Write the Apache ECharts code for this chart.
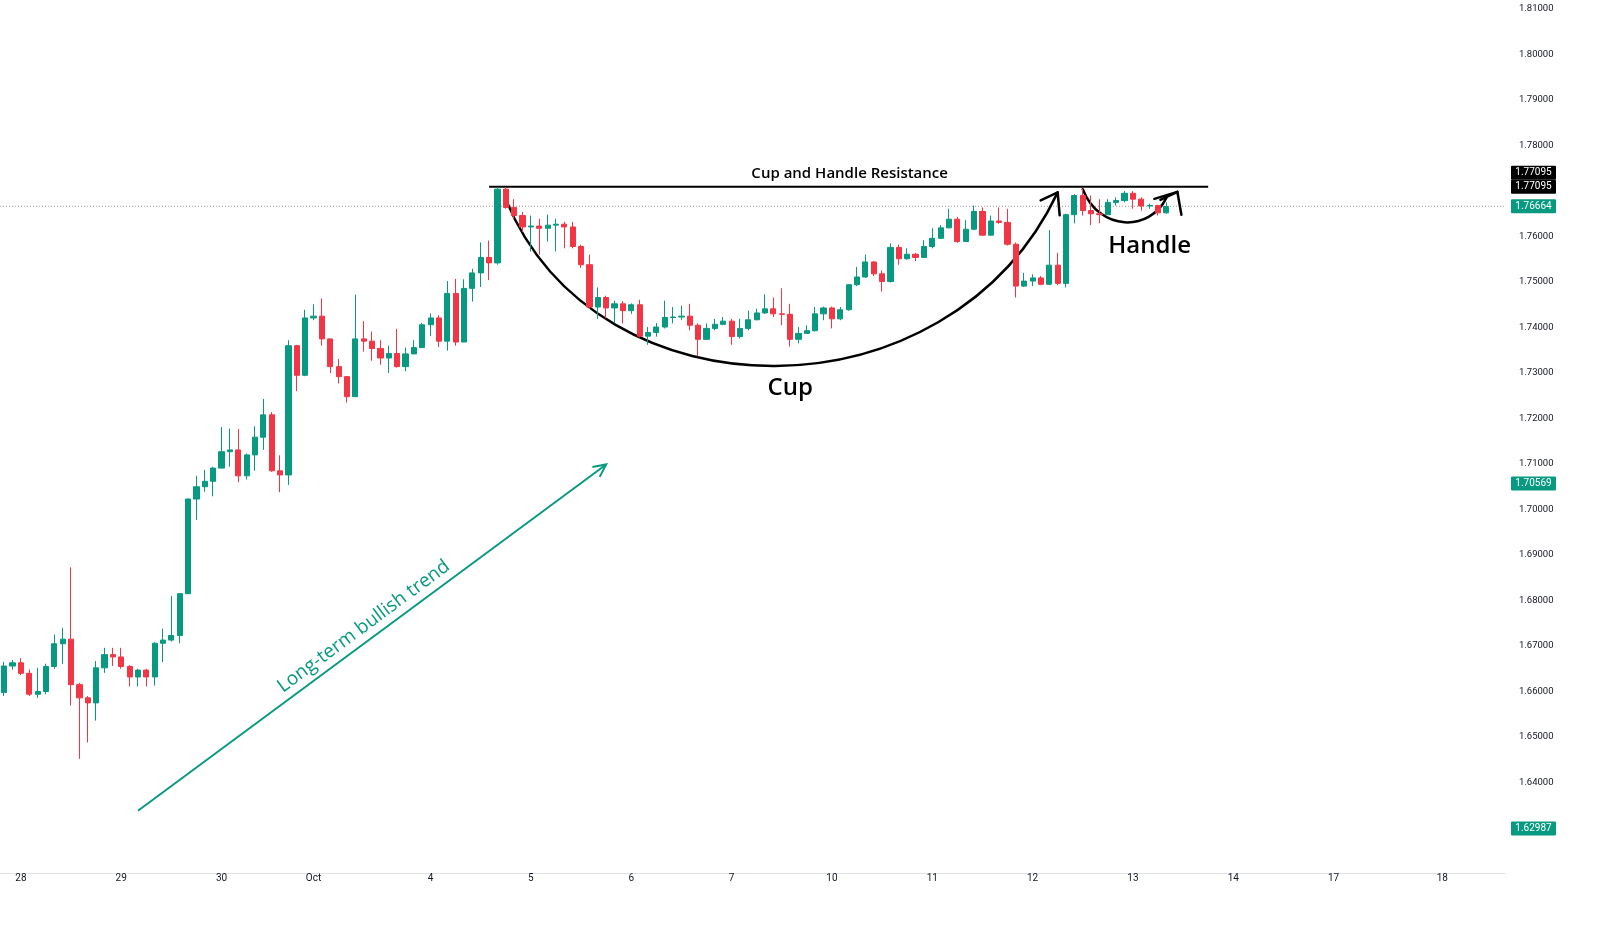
<!DOCTYPE html>
<html>
<head>
<meta charset="utf-8">
<script src="https://cdn.jsdelivr.net/npm/echarts@6/dist/echarts.min.js"></script>
<style>
  html, body, #main { margin: 0; width: 100%; height: 100%; background: #fff; overflow: hidden; }
</style>
</head>
<body>
<div id="main"></div>
<script>
// 2h candles
const open = [1.6598,1.6656,1.6663,1.6640,1.6594,1.6600,1.6655,1.6705,1.6715,1.6615,1.6586,1.6575,1.6652,1.6681,1.6676,1.6655,1.6632,1.6647,1.6632,1.6706,
  1.6713,1.6723,1.6815,1.7023,1.7050,1.7062,1.7091,1.7127,1.7131,1.7074,1.7120,1.7159,1.7208,1.7085,1.7076,1.7360,1.7295,1.7421,1.7425,1.7375,
  1.7314,1.7292,1.7248,1.7375,1.7370,1.7354,1.7333,1.7343,1.7314,1.7342,1.7356,1.7406,1.7421,1.7370,1.7475,1.7368,1.7486,1.7520,1.7554,1.7542,
  1.7704,1.7664,1.7646,1.7621,1.7623,1.7618,1.7625,1.7627,1.7621,1.7578,1.7538,1.7445,1.7466,1.7443,1.7452,1.7437,1.7450,1.7381,1.7389,1.7401,
  1.7422,1.7423,1.7425,1.7405,1.7374,1.7398,1.7407,1.7414,1.7380,1.7398,1.7417,1.7432,1.7441,1.7430,1.7429,1.7374,1.7387,1.7393,1.7430,1.7443,
  1.7419,1.7439,1.7494,1.7511,1.7544,1.7518,1.7501,1.7576,1.7551,1.7561,1.7554,1.7578,1.7596,1.7619,1.7638,1.7589,1.7616,1.7655,1.7603,1.7634,
  1.7631,1.7583,1.7491,1.7502,1.7509,1.7495,1.7537,1.7497,1.7648,1.7690,1.7657,1.7650,1.7648,1.7675,1.7679,1.7695,1.7682,1.7667,1.7668,1.7652];
const close = [1.6656,1.6663,1.6640,1.6594,1.6600,1.6655,1.6705,1.6715,1.6615,1.6586,1.6575,1.6652,1.6681,1.6676,1.6655,1.6632,1.6647,1.6632,1.6706,1.6713,
  1.6723,1.6815,1.7023,1.7050,1.7062,1.7091,1.7127,1.7131,1.7074,1.7120,1.7159,1.7208,1.7085,1.7076,1.7360,1.7295,1.7421,1.7425,1.7375,1.7314,
  1.7292,1.7248,1.7375,1.7370,1.7354,1.7333,1.7343,1.7314,1.7342,1.7356,1.7406,1.7421,1.7370,1.7475,1.7368,1.7486,1.7520,1.7554,1.7542,1.7704,
  1.7664,1.7646,1.7621,1.7623,1.7618,1.7625,1.7627,1.7621,1.7578,1.7538,1.7445,1.7466,1.7443,1.7452,1.7437,1.7450,1.7381,1.7389,1.7401,1.7422,
  1.7423,1.7425,1.7405,1.7374,1.7398,1.7407,1.7414,1.7380,1.7398,1.7417,1.7432,1.7441,1.7430,1.7429,1.7374,1.7387,1.7393,1.7430,1.7443,1.7419,
  1.7439,1.7494,1.7511,1.7544,1.7518,1.7501,1.7576,1.7551,1.7561,1.7554,1.7578,1.7596,1.7619,1.7638,1.7589,1.7616,1.7655,1.7603,1.7634,1.7631,
  1.7583,1.7491,1.7502,1.7509,1.7495,1.7537,1.7497,1.7648,1.7690,1.7657,1.7650,1.7648,1.7675,1.7679,1.7695,1.7682,1.7667,1.7668,1.7652,1.7666];
const low = [1.6590,1.6648,1.6636,1.6590,1.6586,1.6594,1.6650,1.6661,1.6569,1.6452,1.6488,1.6536,1.6641,1.6656,1.6650,1.6611,1.6611,1.6611,1.6613,1.6665,
  1.6710,1.6706,1.6815,1.6977,1.7039,1.7029,1.7094,1.7094,1.7060,1.7066,1.7085,1.7131,1.7083,1.7038,1.7054,1.7260,1.7293,1.7416,1.7360,1.7300,
  1.7277,1.7235,1.7248,1.7347,1.7327,1.7318,1.7300,1.7312,1.7304,1.7342,1.7356,1.7381,1.7357,1.7349,1.7360,1.7368,1.7457,1.7489,1.7504,1.7538,
  1.7661,1.7639,1.7610,1.7567,1.7560,1.7589,1.7567,1.7574,1.7574,1.7531,1.7441,1.7419,1.7420,1.7409,1.7409,1.7430,1.7378,1.7362,1.7380,1.7398,
  1.7409,1.7417,1.7394,1.7337,1.7373,1.7394,1.7405,1.7362,1.7376,1.7394,1.7416,1.7430,1.7423,1.7405,1.7358,1.7365,1.7386,1.7391,1.7416,1.7398,
  1.7416,1.7437,1.7491,1.7509,1.7513,1.7479,1.7499,1.7538,1.7549,1.7546,1.7553,1.7574,1.7595,1.7618,1.7586,1.7588,1.7614,1.7602,1.7602,1.7628,
  1.7580,1.7466,1.7489,1.7491,1.7493,1.7493,1.7493,1.7488,1.7629,1.7646,1.7625,1.7629,1.7648,1.7668,1.7675,1.7661,1.7657,1.7661,1.7646,1.7650];
const high = [1.6665,1.6669,1.6673,1.6648,1.6652,1.6661,1.6725,1.6740,1.6873,1.6619,1.6590,1.6667,1.6696,1.6696,1.6696,1.6658,1.6650,1.6650,1.6708,1.6738,
  1.6810,1.6816,1.7024,1.7074,1.7087,1.7094,1.7181,1.7178,1.7177,1.7123,1.7183,1.7243,1.7214,1.7119,1.7372,1.7362,1.7439,1.7451,1.7464,1.7375,
  1.7331,1.7293,1.7472,1.7414,1.7391,1.7372,1.7360,1.7397,1.7356,1.7372,1.7410,1.7431,1.7427,1.7502,1.7507,1.7506,1.7529,1.7587,1.7591,1.7708,
  1.7708,1.7682,1.7654,1.7646,1.7639,1.7648,1.7639,1.7632,1.7632,1.7582,1.7560,1.7488,1.7470,1.7459,1.7458,1.7453,1.7461,1.7401,1.7410,1.7459,
  1.7445,1.7448,1.7452,1.7409,1.7409,1.7419,1.7423,1.7419,1.7419,1.7437,1.7441,1.7473,1.7466,1.7486,1.7452,1.7401,1.7405,1.7445,1.7446,1.7446,
  1.7445,1.7495,1.7533,1.7560,1.7546,1.7525,1.7585,1.7582,1.7574,1.7564,1.7592,1.7618,1.7625,1.7661,1.7643,1.7636,1.7668,1.7664,1.7646,1.7664,
  1.7661,1.7587,1.7520,1.7517,1.7513,1.7614,1.7564,1.7650,1.7693,1.7705,1.7690,1.7682,1.7682,1.7686,1.7700,1.7700,1.7686,1.7672,1.7670,1.7675];

const slots = 180;  // candle slots on the time axis incl. empty future
const dayLabels = {2:'28',14:'29',26:'30',37:'Oct',51:'4',63:'5',75:'6',87:'7',99:'10',111:'11',123:'12',135:'13',147:'14',159:'17',172:'18'};
const resistance = 1.77095;
const lastPrice = 1.76664;
const hiddenTicks = ['1.77000', '1.63000'];  // covered by price tags
const priceTags = [
  {v: 1.77095, bg: '#000', dy: -14},
  {v: 1.77095, bg: '#000', dy: 0},
  {v: 1.76664, bg: '#089981', dy: 0},
  {v: 1.70569, bg: '#089981', dy: 0},
  {v: 1.62987, bg: '#089981', dy: 0}
];

const UP = '#089981', DOWN = '#f23645';
const cats = [];
for (let i = 0; i < slots; i++) cats.push(String(i));
const candles = open.map((o, i) => [o, close[i], low[i], high[i]]);

const chart = echarts.init(document.getElementById('main'));
chart.setOption({
  animation: false,
  grid: {left: 0, right: 95, top: 9, bottom: 60.5},
  xAxis: {
    type: 'category', data: cats,
    axisLine: {show: true, lineStyle: {color: '#e0e3eb'}},
    axisTick: {show: false},
    splitLine: {show: false},
    axisLabel: {
      interval: (i) => dayLabels[i] !== undefined,
      formatter: (v) => dayLabels[v] || '',
      color: '#131722', fontSize: 10, fontFamily: 'Roboto', margin: 0
    }
  },
  yAxis: {
    type: 'value', position: 'right', min: 1.62, max: 1.81, interval: 0.01,
    axisLine: {show: false}, axisTick: {show: false}, splitLine: {show: false},
    axisLabel: {
      color: '#131722', fontSize: 9.5, fontFamily: 'Roboto', margin: 14,
      formatter: (v) => (v < 1.625 || hiddenTicks.includes(v.toFixed(5))) ? '' : v.toFixed(5)
    }
  },
  series: [{
    type: 'candlestick', data: candles, barWidth: '68%',
    itemStyle: {color: UP, color0: DOWN, borderColor: UP, borderColor0: DOWN, borderWidth: 1}
  }]
});

const px = (i, v) => chart.convertToPixel({xAxisIndex: 0, yAxisIndex: 0}, [i, v]);
const g = [];
const black = {stroke: '#000', lineWidth: 2.5, fill: 'none', lineCap: 'round', lineJoin: 'round'};

// last price dotted line
const lp = px(0, lastPrice);
g.push({type: 'line', z: -1, shape: {x1: 0, y1: lp[1], x2: 1505, y2: lp[1]}, style: {stroke: '#9598a1', lineWidth: 1, lineDash: [1, 2]}});

// resistance line + title
const r0 = px(58.3, resistance), r1 = px(144, resistance);
g.push({type: 'line', shape: {x1: r0[0], y1: r0[1], x2: r1[0], y2: r1[1]}, style: {stroke: '#000', lineWidth: 2}});
g.push({type: 'text', x: (r0[0] + r1[0]) / 2 + 1, y: r0[1] - 13, style: {text: 'Cup and Handle Resistance', font: '600 15px "Open Sans"', fill: '#000', align: 'center', verticalAlign: 'middle'}});

function curve(p0, c1, c2, p1) {
  const a = px(...p0), b = px(...c1), c = px(...c2), d = px(...p1);
  g.push({type: 'bezierCurve', shape: {x1: a[0], y1: a[1], cpx1: b[0], cpy1: b[1], cpx2: c[0], cpy2: c[1], x2: d[0], y2: d[1]}, style: black});
  return d;
}
// cup
const ce = curve([59.9, 1.7681], [71.3, 1.7191], [113.1, 1.7191], [126.3, 1.7697]);
g.push({type: 'polyline', shape: {points: [[ce[0] - 17, ce[1] + 8], [ce[0], ce[1]], [ce[0] + 2, ce[1] + 23]]}, style: black});
// handle
const he = curve([129.3, 1.7704], [131, 1.7610], [137, 1.7610], [139, 1.7685]);
g.push({type: 'polyline', shape: {points: [[he[0] - 12, he[1] + 1], [he[0] + 11, he[1] - 6], [he[0] + 15, he[1] + 17]]}, style: black});
g.push({type: 'line', shape: {x1: he[0] - 6, y1: he[1] + 2, x2: he[0] + 11, y2: he[1] - 6}, style: black});

const cupT = px(94, 1.7266), hanT = px(136.7, 1.7578);
g.push({type: 'text', x: cupT[0], y: cupT[1], style: {text: 'Cup', font: '600 24px "Open Sans"', fill: '#000', align: 'center', verticalAlign: 'middle'}});
g.push({type: 'text', x: hanT[0], y: hanT[1], style: {text: 'Handle', font: '600 24px "Open Sans"', fill: '#000', align: 'center', verticalAlign: 'middle'}});

// long-term trend arrow
const t0 = px(16.2, 1.6338), t1 = px(71.8, 1.7099);
const ang = Math.atan2(t1[1] - t0[1], t1[0] - t0[0]);
const green = {stroke: UP, lineWidth: 2, fill: 'none'};
g.push({type: 'line', shape: {x1: t0[0], y1: t0[1], x2: t1[0], y2: t1[1]}, style: green});
const ah = (a) => [t1[0] - 14 * Math.cos(ang + a), t1[1] - 14 * Math.sin(ang + a)];
g.push({type: 'polyline', shape: {points: [ah(0.45), t1, ah(-0.45)]}, style: green});
const tt = px(42.8, 1.6743);
g.push({type: 'text', x: tt[0], y: tt[1], rotation: -ang, style: {text: 'Long-term bullish trend', font: '19px "Open Sans"', fill: UP, align: 'center', verticalAlign: 'middle'}});

// price tags on the axis
priceTags.forEach(t => {
  const p = px(0, t.v);
  g.push({type: 'rect', shape: {x: 1511, y: p[1] - 7 + t.dy, width: 45, height: 14, r: 1}, style: {fill: t.bg}});
  g.push({type: 'text', x: 1533.5, y: p[1] + t.dy, style: {text: t.v.toFixed(5), font: '10px Roboto', fill: '#fff', align: 'center', verticalAlign: 'middle'}});
});

chart.setOption({graphic: g});
</script>
</body>
</html>
